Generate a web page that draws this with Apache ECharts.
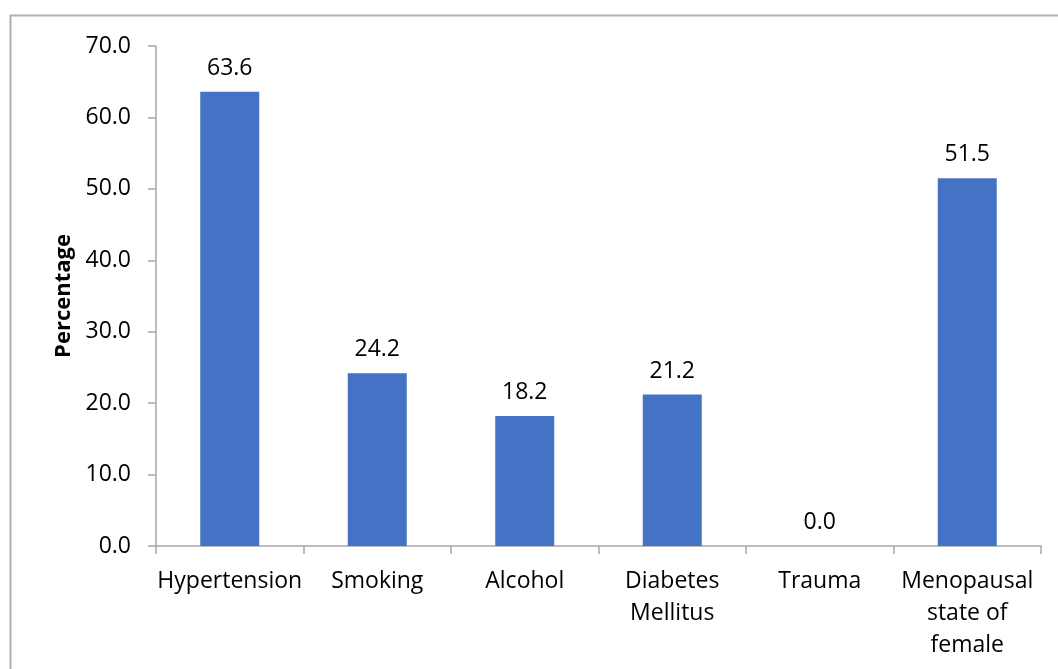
<!DOCTYPE html>
<html>
<head>
<meta charset="utf-8">
<script src="https://cdn.jsdelivr.net/npm/echarts@6/dist/echarts.min.js"></script>
<style>
  html, body { margin: 0; padding: 0; background: #fff; }
  #chart { width: 1058px; height: 669px; }
</style>
</head>
<body>
<div id="chart"></div>
<script>
// risk factors, percentage of patients
const categories = ['Hypertension', 'Smoking', 'Alcohol', 'Diabetes\nMellitus', 'Trauma', 'Menopausal\nstate of\nfemale']
const percentages = [63.6, 24.2, 18.2, 21.2, 0.0, 51.5]

const FONT = '"Open Sans", sans-serif'
const chart = echarts.init(document.getElementById('chart'))

chart.setOption({
  backgroundColor: '#fff',
  animation: false,
  grid: { left: 156, right: 17, top: 46, bottom: 123 },
  // outer frame of the chart area
  graphic: [
    { type: 'line', shape: { x1: 10, y1: 15.5, x2: 1058, y2: 15.5 }, style: { stroke: '#b0b0b0', lineWidth: 2 } },
    { type: 'line', shape: { x1: 10.5, y1: 15, x2: 10.5, y2: 669 }, style: { stroke: '#b0b0b0', lineWidth: 2 } },
  ],
  xAxis: {
    type: 'category',
    data: categories,
    axisLine: { lineStyle: { color: '#a6a6a6', width: 1.5 } },
    axisTick: { show: true, length: 8, lineStyle: { color: '#a6a6a6', width: 1.5 } },
    axisLabel: { color: '#000', fontFamily: FONT, fontSize: 23, margin: 19, lineHeight: 32, interval: 0 },
  },
  yAxis: {
    type: 'value',
    min: 0,
    max: 70,
    interval: 10,
    name: 'Percentage',
    nameLocation: 'middle',
    nameGap: 81,
    nameRotate: 90,
    nameTextStyle: { color: '#000', fontFamily: FONT, fontSize: 22, fontWeight: 'bold' },
    axisLine: { show: true, lineStyle: { color: '#a6a6a6', width: 1.5 } },
    axisTick: { show: true, length: 8, lineStyle: { color: '#a6a6a6', width: 1.5 } },
    splitLine: { show: false },
    axisLabel: {
      color: '#000', fontFamily: FONT, fontSize: 23, margin: 25,
      formatter: v => v.toFixed(1),
    },
  },
  series: [{
    type: 'bar',
    data: percentages,
    barCategoryGap: '60%',
    itemStyle: { color: '#4472c4' },
    label: {
      show: true,
      position: 'top',
      distance: 12,
      color: '#000',
      fontFamily: FONT,
      fontSize: 23,
      formatter: p => p.value.toFixed(1),
    },
  }],
})
</script>
</body>
</html>
